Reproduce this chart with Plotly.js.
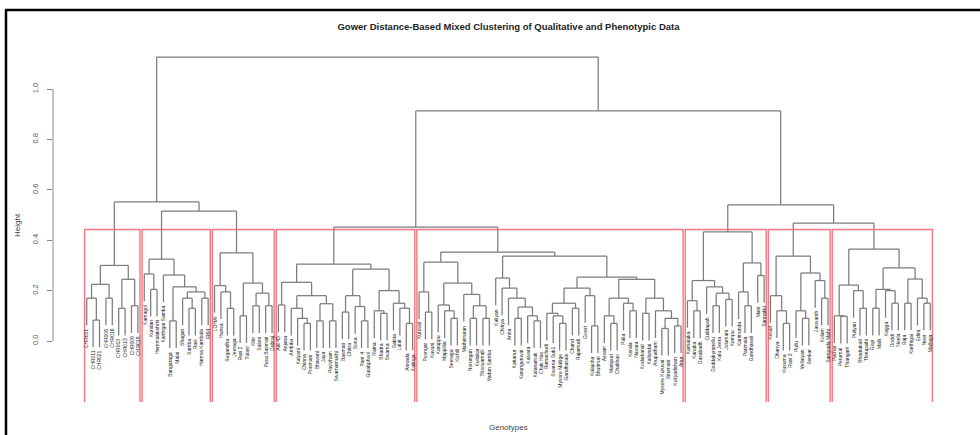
<!DOCTYPE html>
<html>
<head>
<meta charset="utf-8">
<script src="https://cdn.plot.ly/plotly-3.0.1.min.js"></script>
<style>html,body{margin:0;padding:0;background:#fff;}#chart{width:980px;height:435px;}</style>
</head>
<body>
<div id="chart"></div>
<script>
// ---- DATA: eight clusters (k = 8), nested [left, right, mergeHeight]; leaves are genotype names
const cluster1 = [[["CHR001",["CHR011","CHR021",0.083],0.17],["CHR006","CHR016",0.17],0.225],
                  [["CHR003","CHR013",0.13],["CHR009","CHR019",0.14],0.245],0.30];
const cluster2 = [["Kamagol",["Kundan","Hemmalakshmi",0.205],0.266],
                  ["Karthigai Samba",[["Bangaraga","Malai",0.08],[["Shagan",["Samba","Rasi",0.13],0.17],["Hamsa Kambala","IR64",0.17],0.195],0.215],0.262],0.325];
const cluster3 = [["LOHAI",["Hunsa",["Sugandha","Jeeraga",0.13],0.195],0.22],
                  [["Rasi 2","Tulasi",0.1],[["Khir","Saloni",0.14],["Pusa Basmati","Dubraj",0.14],0.19],0.23],0.35];
const cluster4 = [[["Adt 43","Anjana",0.143],[["Ambika",["Kalyani",["Chinna","Ponmani",0.07],0.09],0.13],[["Bhavani","Jaya",0.08],["Pavizham","Swarnamukhi",0.08],0.148],0.18],0.233],
                  [[["Basmati","Chitra",0.115],["Sona",["Pant 4","Gulabphool",0.08],0.137],0.18],[["Ratna",["Bhadra","Swarna",0.11],0.12],["Sabita",["Lalat",["Annada","Kalinga",0.07],0.13],0.15],0.2],0.285],0.305];
const cluster5 = [[["Kuruvai",["Poongar","Kavuni",0.115],0.195],[["Karuppu",["Mappillai",["Seeraga","Kichili",0.09],0.12],0.143],["Mathimaran",[["Norungan","Kullakar",0.09],["Thooyamalli","Vadan Samba",0.09],0.14],0.185],0.23],0.313],
                  [["Kaliyan",["Chiriya",["Anna",[["Kattanur","Karunguruvai",0.09],["Kaivara",["Kalanamak","Chak Hao",0.08],0.1],0.135],0.17],0.21],0.25],
                   [[[["Ratnachudi",["Swarna Sub1",["Mysore Mallige","Gandhasale",0.07],0.1],0.11],["Chand","Rajamudi",0.13],0.15],["Gowri",["Kalajoha","Bhutmuri",0.06],0.18],0.21],
                    [[["Assam",["Manipuri","Chakhao",0.07],0.1],["Palla",["Kerala","Navara",0.12],0.15],0.17],[["Kodaikanal","Kallundai",0.11],["Arupatham",[["Mysore Kuruvai","Sirumani",0.05],["Kuliyadichan","Attur",0.06],0.09],0.12],0.17],0.245],0.254],0.337],0.353];
const cluster6 = [[["Karnataka",["Kanaka","Dasabadh",0.12],0.16],["Cuddapah",[["Doddabyranellu","Kalu Jeera",0.14],["Jolumani","Kempu",0.165],0.19],0.215],0.24],
                  [["Karimunda",["Parimala","Gandhasali",0.14],0.195],["Mani","Sannakki",0.26],0.31],0.433];
const cluster7 = [["Kesari",["Dhanya",["Kusuma","Rasi 3",0.07],0.12],0.18],
                  [["Pullu",["Vellaiyan","Senkar",0.09],0.12],["Jaswanth",["Kolam","Sampada Mahi",0.17],0.24],0.27],0.337];
const cluster8 = [[["Pachai",["Perumal","Thangam",0.098],0.1],["Puliyan",["Bhadrakali","Thirupathi",0.13],0.2],0.222],
                  [[["Gopi","Malli",0.13],["Kagga",["Doddi","Neela",0.15],0.2],0.205],[["Raja","Karthigai",0.15],["Edira",["Neer","Mallaga",0.15],0.17],0.246],0.29],0.365];
const clusters = [cluster1, cluster2, cluster3, cluster4, cluster5, cluster6, cluster7, cluster8];
// upper merges joining the clusters
const upperTree = [[cluster1,[cluster2,cluster3,0.516],0.552],[[cluster4,cluster5,0.452],[cluster6,[cluster7,cluster8,0.468],0.54],0.913],1.127];
const yTicks = [0, 0.2, 0.4, 0.6, 0.8, 1.0];
const yTickText = ["0.0", "0.2", "0.4", "0.6", "0.8", "1.0"];
const hangFrac = 0.1;

// ---- layout of the dendrogram (R hclust style)
let leafCounter = 0;
const allHeights = [];
function place(node){
  if (typeof node === 'string'){ leafCounter++; return {leaf:true, x:leafCounter, label:node}; }
  const L = place(node[0]), R = place(node[1]);
  allHeights.push(node[2]);
  return {leaf:false, x:(L.x+R.x)/2, h:node[2], L, R};
}
const root = place(upperTree);
const nLeaves = leafCounter;
const maxH = Math.max(...allHeights), minH = Math.min(...allHeights);
const hang = hangFrac * (maxH - minH);

const xs = [], ys = [], annotations = [];
function draw(n){
  if (n.leaf) return;
  xs.push(n.L.x, n.R.x, null); ys.push(n.h, n.h, null);
  [n.L, n.R].forEach(c => {
    const bottom = c.leaf ? n.h - hang : c.h;
    xs.push(c.x, c.x, null); ys.push(n.h, bottom, null);
    if (c.leaf){
      annotations.push({x:c.x, y:bottom, xref:'x', yref:'y', text:c.label, showarrow:false,
        textangle:-90, xanchor:'center', yanchor:'top', yshift:-1.5,
        font:{family:'Liberation Sans, Arial, sans-serif', size:5, color:'#222'}});
    }
    draw(c);
  });
}
draw(root);

// cluster rectangles (rect.hclust, k = 8)
const sortedH = allHeights.slice().sort((a,b)=>b-a);
const boxTop = (sortedH[6] + sortedH[7]) / 2;
const xPad = 0.04 * (nLeaves - 1);
const xRange = [1 - xPad, nLeaves + xPad];
const yRange = [-0.242, 1.163];
const shapes = [];
let start = 0;
function countLeaves(n){ return typeof n === 'string' ? 1 : countLeaves(n[0]) + countLeaves(n[1]); }
clusters.forEach(c => {
  const cnt = countLeaves(c);
  const x0 = start + 0.66, x1 = start + cnt + 0.33;
  shapes.push({type:'path', xref:'x', yref:'y',
    path:`M ${x0} ${yRange[0]} L ${x0} ${boxTop} L ${x1} ${boxTop} L ${x1} ${yRange[0]}`,
    line:{color:'rgba(245,95,105,0.85)', width:1.4}});
  start += cnt;
});
// y axis line from 0 to 1 only
shapes.push({type:'line', xref:'paper', yref:'y', x0:0, x1:0, y0:yTicks[0], y1:yTicks[yTicks.length-1], line:{color:'#888', width:1}});
// black frame (left + top) of the figure
shapes.push({type:'line', xref:'paper', yref:'paper', x0:-0.0516, x1:-0.0516, y0:1.107, y1:-0.1, line:{color:'#000', width:2.5}});
shapes.push({type:'line', xref:'paper', yref:'paper', x0:-0.0528, x1:1.1, y0:1.107, y1:1.107, line:{color:'#000', width:2.5}});

annotations.push({xref:'paper', yref:'paper', x:0.5, y:-0.0734, text:'Genotypes', showarrow:false,
  xanchor:'center', yanchor:'middle', font:{family:'Liberation Sans, Arial, sans-serif', size:8, color:'#444'}});
annotations.push({xref:'paper', yref:'paper', x:-0.0395, y:0.5, text:'Height', showarrow:false, textangle:-90,
  xanchor:'center', yanchor:'middle', font:{family:'Liberation Sans, Arial, sans-serif', size:8, color:'#444'}});

const trace = {x:xs, y:ys, type:'scatter', mode:'lines', hoverinfo:'skip',
  line:{color:'#7c7c7c', width:1.25}, showlegend:false};

const layout = {
  width:980, height:435,
  margin:{l:53, r:16, t:48, b:33},
  paper_bgcolor:'#fff', plot_bgcolor:'#fff',
  title:{text:'<b>Gower Distance-Based Mixed Clustering of Qualitative and Phenotypic Data</b>',
    font:{family:'Liberation Sans, Arial, sans-serif', size:9.5, color:'#222'},
    x:0.5, xref:'paper', xanchor:'center', y:1-27/435, yref:'container', yanchor:'middle'},
  xaxis:{range:xRange, showgrid:false, zeroline:false, showline:false, showticklabels:false, ticks:'', fixedrange:true},
  yaxis:{range:yRange, showgrid:false, zeroline:false, showline:false, tickvals:yTicks, ticktext:yTickText,
    ticks:'outside', ticklen:5, tickcolor:'#888', tickwidth:1, tickangle:-90, ticklabelstandoff:6,
    tickfont:{family:'Liberation Sans, Arial, sans-serif', size:7.5, color:'#555'}, fixedrange:true},
  shapes:shapes, annotations:annotations
};
Plotly.newPlot('chart', [trace], layout, {displayModeBar:false, staticPlot:true});
</script>
</body>
</html>
